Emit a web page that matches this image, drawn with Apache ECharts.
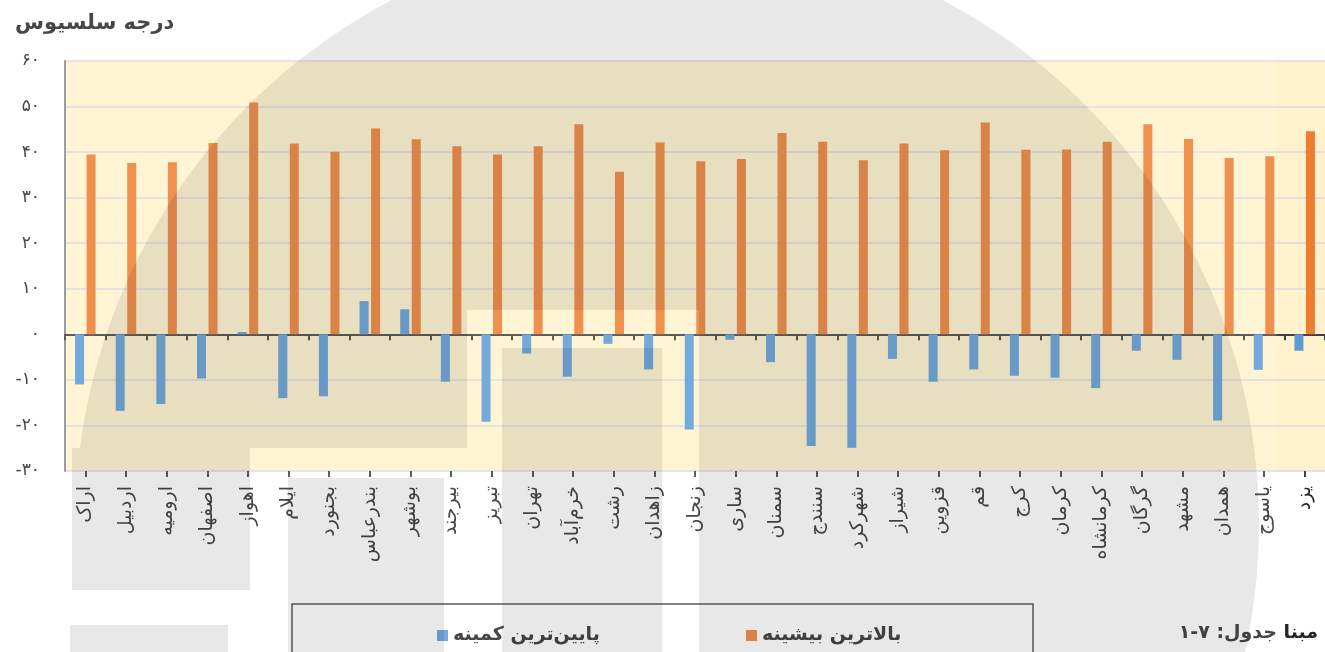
<!DOCTYPE html>
<html>
<head>
<meta charset="utf-8">
<title>درجه سلسیوس</title>
<script src="https://cdn.jsdelivr.net/npm/echarts@6.0.0/dist/echarts.min.js"></script>
<style>
  html, body { margin: 0; padding: 0; background: #fff; }
  #chart { width: 1325px; height: 652px; }
</style>
</head>
<body>
<div id="chart"></div>
<script>
// cities, left to right
const cities = ['اراک', 'اردبیل', 'ارومیه', 'اصفهان', 'اهواز', 'ایلام', 'بجنورد', 'بندرعباس', 'بوشهر', 'بیرجند',
  'تبریز', 'تهران', 'خرم‌آباد', 'رشت', 'زاهدان', 'زنجان', 'ساری', 'سمنان', 'سنندج', 'شهرکرد',
  'شیراز', 'قزوین', 'قم', 'کرج', 'کرمان', 'کرمانشاه', 'گرگان', 'مشهد', 'همدان', 'یاسوج', 'یزد'];

// highest max temperature
const maxTemp = [39.5, 37.6, 37.8, 42.0, 50.9, 41.9, 40.1, 45.2, 42.8, 41.3,
  39.5, 41.3, 46.1, 35.7, 42.1, 38.0, 38.5, 44.2, 42.3, 38.2,
  41.9, 40.4, 46.5, 40.5, 40.6, 42.3, 46.1, 42.9, 38.7, 39.1, 44.6];

// lowest min temperature
const minTemp = [-11.0, -16.8, -15.3, -9.7, 0.5, -14.0, -13.6, 7.3, 5.5, -10.4,
  -19.2, -4.2, -9.3, -2.1, -7.7, -20.9, -1.2, -6.1, -24.5, -24.9,
  -5.4, -10.4, -7.7, -9.1, -9.5, -11.8, -3.6, -5.6, -18.9, -7.8, -3.6];

const seriesNames = ['پایین‌ترین کمینه', 'بالاترین بیشینه'];
const yTicks = { min: -30, max: 60, interval: 10 };

const FONT = 'DejaVu Sans';
const faDigits = (s) => String(s).replace(/\d/g, d => '۰۱۲۳۴۵۶۷۸۹'[d]);

// watermark (semi transparent logo laid over the chart)
const cx = 667, cy = 524, R = 592;
const dome = [];
const a0 = Math.PI + Math.asin((cy - 448) / R);
const a1 = 2 * Math.PI + Math.asin((652 - cy) / R);
for (let i = 0; i <= 120; i++) {
  const a = a0 + (a1 - a0) * i / 120;
  dome.push([cx + R * Math.cos(a), cy + R * Math.sin(a)]);
}
dome.push([699, 652], [699, 310], [467, 310], [467, 448]);

const shade = 'rgba(0,0,0,0.09)';
const boxes = [[72, 448, 178, 142], [288, 478, 156, 174], [502, 348, 160, 304], [70, 625, 158, 27]];

const legendText = { fontFamily: FONT, fontSize: 19, fontWeight: 'bold', color: '#262626' };

const chart = echarts.init(document.getElementById('chart'));

chart.setOption({
  backgroundColor: '#fff',
  animation: false,
  title: {
    text: 'درجه سلسیوس',
    left: 10,
    top: 8,
    textStyle: { fontFamily: FONT, fontSize: 21, fontWeight: 'bold', color: '#262626' }
  },
  grid: {
    left: 65,
    top: 61,
    width: 1265,
    height: 410,
    show: true,
    backgroundColor: '#fff2cc',
    borderWidth: 0
  },
  legend: [
    {
      data: [seriesNames[0]],
      left: 432,
      top: 621,
      icon: 'rect',
      itemWidth: 11,
      itemHeight: 11,
      itemGap: 0,
      textStyle: legendText
    },
    {
      data: [seriesNames[1]],
      left: 741,
      top: 621,
      icon: 'rect',
      itemWidth: 11,
      itemHeight: 11,
      textStyle: legendText
    }
  ],
  xAxis: [
    {
      // labels along the bottom edge
      type: 'category',
      data: cities,
      position: 'bottom',
      axisLine: { show: false, onZero: false },
      axisTick: { show: false },
      axisLabel: {
        interval: 0,
        rotate: 90,
        margin: 15,
        fontFamily: FONT,
        fontSize: 19,
        color: '#262626'
      }
    },
    {
      // zero line with ticks between categories
      type: 'category',
      data: cities,
      position: 'bottom',
      axisLine: { show: true, onZero: true, lineStyle: { color: '#404040', width: 2 } },
      axisTick: { show: true, interval: 0, length: 6, lineStyle: { color: '#404040', width: 2 } },
      axisLabel: { show: false }
    },
    {
      // ticks at category centres
      type: 'category',
      data: cities,
      position: 'bottom',
      axisLine: { show: false, onZero: true },
      axisTick: { show: true, interval: 0, alignWithLabel: true, length: 6, lineStyle: { color: '#404040', width: 2 } },
      axisLabel: { show: false }
    }
  ],
  yAxis: {
    type: 'value',
    min: yTicks.min,
    max: yTicks.max,
    interval: yTicks.interval,
    axisLine: { show: true, lineStyle: { color: '#8c8c8c', width: 2 } },
    axisTick: { show: false },
    splitLine: { lineStyle: { color: '#d9d9de', width: 1.5 } },
    axisLabel: {
      margin: 25,
      fontFamily: FONT,
      fontSize: 17,
      color: '#262626',
      formatter: (v) => faDigits(v)
    }
  },
  series: [
    {
      name: seriesNames[0],
      type: 'bar',
      data: minTemp,
      barWidth: 9,
      barGap: '28%',
      itemStyle: { color: '#5b9bd5' }
    },
    {
      name: seriesNames[1],
      type: 'bar',
      data: maxTemp,
      barWidth: 9,
      barGap: '28%',
      itemStyle: { color: '#ed7d31' }
    }
  ],
  graphic: [
    {
      type: 'rect',
      z: 100,
      silent: true,
      shape: { x: 292, y: 604, width: 741, height: 70 },
      style: { fill: null, stroke: '#404040', lineWidth: 1.5 }
    },
    {
      type: 'text',
      z: 100,
      silent: true,
      style: {
        text: '\u2067مبنا جدول: \u2066۱-۷\u2069\u2069',
        x: 1318,
        y: 633,
        textAlign: 'right',
        textVerticalAlign: 'middle',
        font: 'bold 19px "DejaVu Sans"',
        fill: '#262626'
      }
    },
    // whitish veil of the watermark
    {
      type: 'rect',
      z: 110,
      silent: true,
      shape: { x: 0, y: 0, width: 1277, height: 652 },
      style: { fill: 'rgba(255,255,255,0.15)' }
    },
    {
      type: 'polygon',
      z: 111,
      silent: true,
      shape: { points: dome },
      style: { fill: shade }
    }
  ].concat(boxes.map(b => ({
    type: 'rect',
    z: 111,
    silent: true,
    shape: { x: b[0], y: b[1], width: b[2], height: b[3] },
    style: { fill: shade }
  })))
});
</script>
</body>
</html>
